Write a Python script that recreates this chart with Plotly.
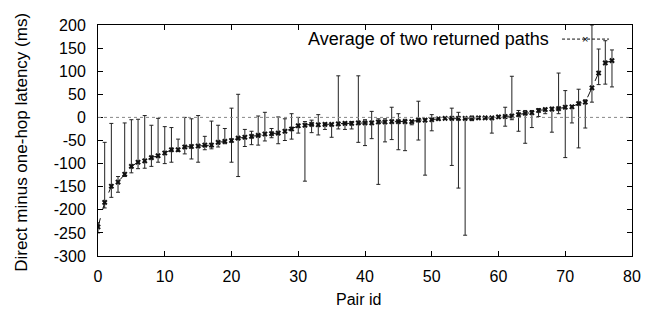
import plotly.graph_objects as go

pair_id = list(range(78))
avg = [-237, -184, -149, -140, -123, -106, -97, -94, -87, -83,
       -77, -70, -70, -64, -63, -62, -60, -60, -54, -52,
       -50, -45, -43, -41, -39, -36, -35, -34, -30, -25,
       -18, -17, -15, -16, -15, -15, -14, -13, -13, -12,
       -12, -12, -10, -10, -9, -9, -9, -9, -6, -6,
       -5, -3, -2, -2, -2, -2, -2, -1, -1, -1,
       1, 2, 3, 6, 9, 10, 15, 17, 18, 19,
       22, 23, 30, 33, 64, 96, 118, 123]
low = [-250, -196, -173, -162, -128, -120, -111, -110, -106, -97,
       -100, -97, -74, -79, -90, -97, -70, -68, -64, -57,
       -97, -128, -63, -59, -60, -51, -44, -57, -50, -47,
       -34, -138, -33, -38, -26, -43, -25, -26, -25, -54,
       -61, -46, -145, -53, -48, -70, -72, -16, -49, -125,
       -29, -5, -4, -104, -153, -255, -7, -3, -3, -34,
       -1, -19, -5, -30, -56, -22, 2, 8, -32, 8,
       -87, -12, -66, -23, 33, 71, 72, 66]
high = [-228, -54, -13, -128, -12, -5, -4, 4, -17, -2,
        -20, -22, -47, 0, -3, 4, -41, -8, -17, -24,
        20, 50, -26, -30, 3, 11, -24, 1, -3, 8,
        0, -9, -6, 6, -12, -13, 90, -10, -9, 90,
        -5, 13, -3, -3, 22, 8, -4, -7, 35, -3,
        6, -1, 0, 20, 11, -2, 3, 0, 0, -1,
        3, 22, 89, 15, 15, 15, 19, 20, 22, 96,
        58, 25, 61, 38, 200, 148, 166, 146]

x_ticks = [0, 10, 20, 30, 40, 50, 60, 70, 80]
x_tick_labels = ["0", "10", "20", "30", "40", "50", "60", "70", "80"]
y_ticks = [200, 150, 100, 50, 0, -50, -100, -150, -200, -250, -300]
y_tick_labels = ["200", "150", "100", "50", "0", "-50", "-100", "-150", "-200", "-250", "-300"]

series_name = "Average of two returned paths"
x_title = "Pair id"
y_title = "Direct minus one-hop latency (ms)"

err_plus = [h - v for h, v in zip(high, avg)]
err_minus = [v - l for v, l in zip(avg, low)]

FONT = "Liberation Sans, Arial, sans-serif"

fig = go.Figure()
fig.add_trace(go.Scatter(
    x=pair_id, y=avg, mode="lines+markers", name=series_name,
    line=dict(color="#111111", width=1, dash="dash"),
    marker=dict(symbol="x", size=5, color="#111111"),
    error_y=dict(type="data", symmetric=False, array=err_plus, arrayminus=err_minus,
                 color="#222222", thickness=1, width=2),
    showlegend=False,
))

fig.add_shape(type="line", xref="paper", yref="y", x0=0, x1=1, y0=0, y1=0,
              line=dict(color="#888888", width=1, dash="dot"))

# manual gnuplot-style key
fig.add_annotation(xref="paper", yref="paper", x=0.848, y=0.939, text=series_name,
                   showarrow=False, xanchor="right", yanchor="middle",
                   font=dict(family=FONT, size=18, color="black"))
fig.add_shape(type="line", xref="paper", yref="paper", x0=0.869, x1=0.957, y0=0.939, y1=0.939,
              line=dict(color="#111111", width=1, dash="3px,2px"))
fig.add_annotation(xref="paper", yref="paper", x=0.912, y=0.939, text="×",
                   showarrow=False, xanchor="center", yanchor="middle",
                   font=dict(family=FONT, size=11, color="black"))

fig.add_annotation(xref="paper", yref="paper", x=0.488, y=-0.19, text=x_title,
                   showarrow=False, xanchor="center", yanchor="middle",
                   font=dict(family=FONT, size=16, color="black"))
fig.add_annotation(xref="paper", yref="paper", x=-0.1423, y=0.49, text=y_title,
                   showarrow=False, xanchor="center", yanchor="middle", textangle=-90,
                   font=dict(family=FONT, size=17, color="black"))

axis_common = dict(showgrid=False, zeroline=False, showline=True, linecolor="black",
                   linewidth=1, mirror="ticks", ticks="inside", ticklen=5,
                   tickcolor="black", tickwidth=1, automargin=False,
                   tickfont=dict(family=FONT, size=16, color="black"))

fig.update_xaxes(range=[0, 80], tickmode="array", tickvals=x_ticks, ticktext=x_tick_labels,
                 ticklabelstandoff=6, **axis_common)
fig.update_yaxes(range=[-300, 200], tickmode="array", tickvals=y_ticks, ticktext=y_tick_labels,
                 ticklabelstandoff=8, **axis_common)

# the page body adds an 8px offset, so the figure is 8px smaller on each axis
fig.update_layout(
    width=648, height=305,
    margin=dict(l=90, r=24, t=17, b=57, autoexpand=False),
    paper_bgcolor="white", plot_bgcolor="white",
    font=dict(family=FONT, size=16, color="black"),
)

fig.write_html("out.html")
